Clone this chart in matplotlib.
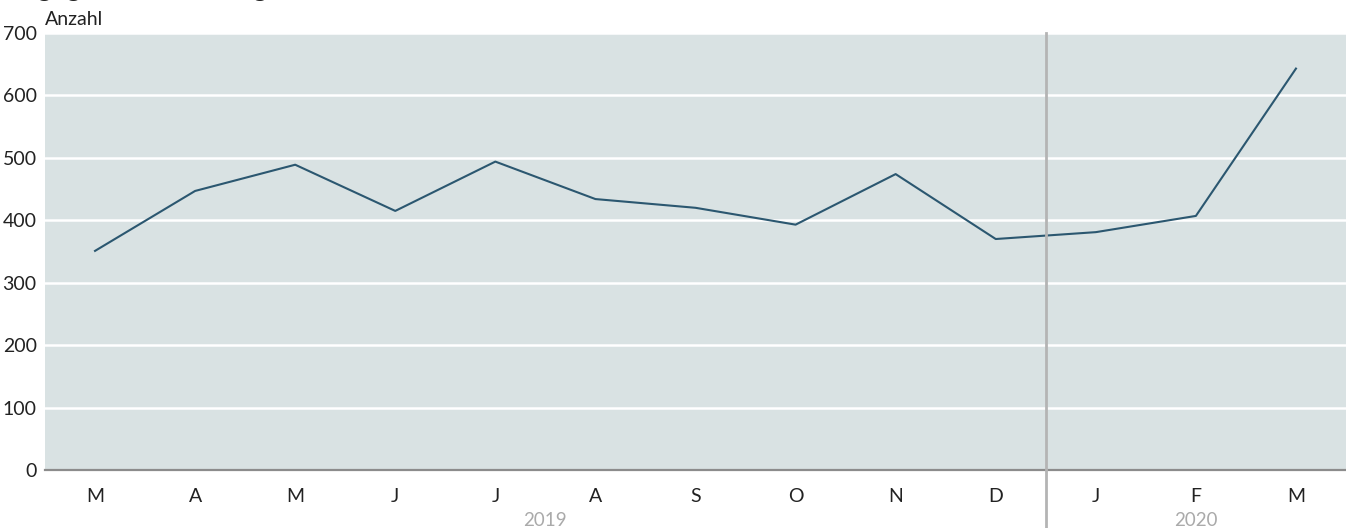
import matplotlib.pyplot as plt
from matplotlib.transforms import blended_transform_factory

plt.rcParams["font.family"] = ["Lato", "DejaVu Sans"]

months = ["M", "A", "M", "J", "J", "A", "S", "O", "N", "D", "J", "F", "M"]
counts = [351, 447, 489, 415, 494, 434, 420, 393, 474, 370, 381, 407, 643]
years = ["2019", "2020"]
year_centers = [4.5, 11]
year_break = 9.5
y_ticks = [0, 100, 200, 300, 400, 500, 600, 700]

fig = plt.figure(figsize=(13.46, 5.28), dpi=100)
ax = fig.add_axes([45 / 1346, 58 / 528, 1 - 45 / 1346, 437 / 528])
ax.set_facecolor("#d9e2e3")

x = list(range(len(months)))
ax.plot(x, counts, color="#2b5770", linewidth=1.5, zorder=3)

ax.set_xlim(-0.5, 12.5)
ax.set_ylim(0, 700)
ax.set_yticks(y_ticks)
ax.set_xticks(x)
ax.set_xticklabels(months)
ax.yaxis.grid(True, color="white", linewidth=1.8)
ax.set_axisbelow(True)
for side in ["top", "right", "left"]:
    ax.spines[side].set_visible(False)
ax.spines["bottom"].set_color("#8c8c8c")
ax.spines["bottom"].set_linewidth(1.6)
ax.tick_params(axis="x", length=0, pad=13, labelsize=14, colors="#222222")
ax.tick_params(axis="y", length=0, pad=6, labelsize=14, colors="#222222")

# Trennlinie zwischen den Jahren
ax.axvline(year_break, ymin=-58 / 437, ymax=1, color="#b4b4b4", linewidth=2,
           clip_on=False, zorder=4)

trans = blended_transform_factory(ax.transData, ax.transAxes)
for label, xc in zip(years, year_centers):
    ax.text(xc, -50 / 437, label, transform=trans, ha="center", va="center",
            fontsize=13.5, color="#aaaaaa")

ax.text(0, 1.012, "Anzahl", transform=ax.transAxes, ha="left", va="bottom",
        fontsize=14, color="#222222")
# Titel liegt wie im Original fast ganz oberhalb des Bildrands
fig.text(3 / 1346, 1 + 4 / 528, "Angegriffene Rettungskräfte", ha="left",
         va="baseline", fontsize=20, color="#222222")

fig.savefig("out.png", dpi=100)
